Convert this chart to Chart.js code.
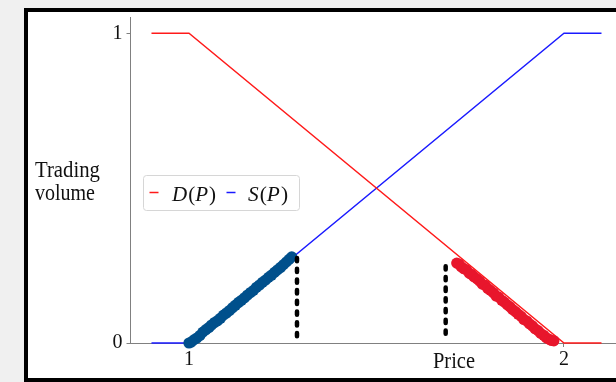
<!DOCTYPE html>
<html>
<head>
<meta charset="utf-8">
<script src="https://cdn.jsdelivr.net/npm/chart.js@4/dist/chart.umd.min.js"></script>
<style>
  html, body { margin: 0; padding: 0; background: #f0f0f0; }
  body { width: 616px; height: 382px; overflow: hidden; position: relative; }
  #frame { position: absolute; left: 24px; top: 8px; width: 700px; height: 366px; border: 4px solid #000; background: #fff; }
  #chart { position: absolute; left: 0; top: 0; }
</style>
</head>
<body>
<div id="frame"></div>
<canvas id="chart" width="616" height="382"></canvas>
<script>
// demand / supply curves
const demandPrice = [0.9, 1, 2, 2.1];
const demandVolume = [1, 1, 0, 0];
const supplyPrice = [0.9, 1, 2, 2.1];
const supplyVolume = [0, 0, 1, 1];

const buyPrice = [1.000, 1.006, 1.013, 1.021, 1.029, 1.037, 1.045, 1.053, 1.060, 1.068, 1.076, 1.084,
    1.092, 1.100, 1.108, 1.116, 1.124, 1.132, 1.140, 1.148, 1.156, 1.164, 1.172, 1.180,
    1.188, 1.196, 1.204, 1.212, 1.220, 1.228, 1.236, 1.244, 1.252, 1.260, 1.267, 1.274];
const buyVolume = [0.000, 0.003, 0.010, 0.016, 0.024, 0.035, 0.043, 0.050, 0.058, 0.066, 0.072, 0.080,
    0.090, 0.097, 0.105, 0.114, 0.122, 0.131, 0.138, 0.146, 0.155, 0.163, 0.170, 0.180,
    0.187, 0.196, 0.203, 0.212, 0.219, 0.228, 0.236, 0.244, 0.253, 0.262, 0.270, 0.278];
const sellPrice = [1.714, 1.720, 1.726, 1.733, 1.740, 1.747, 1.753, 1.760, 1.768, 1.775, 1.782, 1.790,
    1.797, 1.804, 1.812, 1.819, 1.826, 1.834, 1.841, 1.849, 1.856, 1.863, 1.871, 1.878,
    1.886, 1.893, 1.901, 1.908, 1.916, 1.923, 1.931, 1.938, 1.946, 1.953, 1.961, 1.967, 1.973];
const sellVolume = [0.258, 0.255, 0.246, 0.240, 0.236, 0.226, 0.222, 0.214, 0.207, 0.200, 0.190, 0.186,
    0.176, 0.170, 0.162, 0.152, 0.148, 0.138, 0.132, 0.123, 0.117, 0.108, 0.101, 0.093,
    0.086, 0.076, 0.071, 0.062, 0.055, 0.046, 0.040, 0.031, 0.025, 0.017, 0.012, 0.008, 0.007];

// dashed price bounds
const lowBoundPrice = [1.288, 1.288];
const lowBoundVolume = [0.022, 0.280];
const highBoundPrice = [1.6845, 1.6845];
const highBoundVolume = [0.030, 0.268];

const xTicks = [1, 2];
const yTicks = [0, 1];
const xTitle = "Price";
const yTitle = ["Trading", "volume"];

const pts = (xs, ys) => xs.map((x, i) => ({ x, y: ys[i] }));

const serif = "'Liberation Serif', 'DejaVu Serif', serif";
const axisGray = "#808080";

// draw a string squeezed/stretched to a given width
const fitText = (ctx, str, x, baseline, w, font) => {
    ctx.font = font;
    const m = ctx.measureText(str).width;
    ctx.save();
    ctx.translate(x, baseline);
    ctx.scale(w / m, 1);
    ctx.fillText(str, 0, 0);
    ctx.restore();
};

// D(P): letters italic, brackets upright
const drawMath = (ctx, str, x, baseline, w, size) => {
    const parts = str.split("").map((c) => ({
        c,
        font: (/[A-Za-z]/.test(c) ? "italic " : "") + size + "px " + serif,
    }));
    let total = 0;
    parts.forEach((p) => {
        ctx.font = p.font;
        p.w = ctx.measureText(p.c).width + (/[A-Za-z]/.test(p.c) ? 1 : 0);
        total += p.w;
    });
    ctx.save();
    ctx.translate(x, baseline);
    ctx.scale(w / total, 1);
    let cx = 0;
    parts.forEach((p) => {
        ctx.font = p.font;
        ctx.fillText(p.c, cx, 0);
        cx += p.w;
    });
    ctx.restore();
};

const labelsPlugin = {
    id: "labels",
    afterDraw(chart) {
        const { ctx } = chart;
        ctx.save();
        ctx.fillStyle = "#111";
        ctx.textAlign = "left";
        ctx.textBaseline = "alphabetic";
        fitText(ctx, yTitle[0], 35, 177, 65, "23px " + serif);
        fitText(ctx, yTitle[1], 35, 199.5, 60, "23px " + serif);
        fitText(ctx, xTitle, 433, 368, 42, "23px " + serif);

        // legend
        ctx.beginPath();
        ctx.roundRect(143.5, 175.5, 156, 35, 3);
        ctx.fillStyle = "rgba(255,255,255,0.9)";
        ctx.fill();
        ctx.strokeStyle = "#d6d6d6";
        ctx.lineWidth = 1;
        ctx.stroke();

        const ds = chart.data.datasets;
        const entries = [
            { set: ds[4], x: 149.5, tx: 172, tw: 44 },
            { set: ds[5], x: 226.5, tx: 248, tw: 40 },
        ];
        entries.forEach((e) => {
            ctx.beginPath();
            ctx.moveTo(e.x, 192.5);
            ctx.lineTo(e.x + 9, 192.5);
            ctx.strokeStyle = e.set.borderColor;
            ctx.lineWidth = 1.5;
            ctx.stroke();
            ctx.fillStyle = "#111";
            drawMath(ctx, e.set.label, e.tx, 200.5, e.tw, 21);
        });
        ctx.restore();
    },
};

const lineSet = (label, data, color) => ({
    label,
    data,
    showLine: true,
    borderColor: color,
    borderWidth: 1.4,
    pointRadius: 0,
    fill: false,
    clip: false,
    order: 3,
});

const dotSet = (label, data, color) => ({
    label,
    data,
    showLine: false,
    backgroundColor: color,
    borderWidth: 0,
    pointRadius: 5.6,
    clip: false,
    order: 2,
});

const dashSet = (label, data) => ({
    label,
    data,
    showLine: true,
    borderColor: "#000",
    borderWidth: 4.5,
    borderDash: [3.3, 7.4],
    borderCapStyle: "round",
    pointRadius: 0,
    clip: false,
    order: 1,
});

new Chart(document.getElementById("chart"), {
    type: "scatter",
    data: {
        datasets: [
            dashSet("low", pts(lowBoundPrice, lowBoundVolume)),
            dashSet("high", pts(highBoundPrice, highBoundVolume)),
            dotSet("buyers", pts(buyPrice, buyVolume), "#00508c"),
            dotSet("sellers", pts(sellPrice, sellVolume), "#e8162c"),
            lineSet("D(P)", pts(demandPrice, demandVolume), "#ff1a1a"),
            lineSet("S(P)", pts(supplyPrice, supplyVolume), "#1a1aff"),
        ],
    },
    options: {
        responsive: false,
        animation: false,
        devicePixelRatio: 1,
        layout: { autoPadding: false, padding: { top: 17.8, left: 0, right: 0, bottom: 0 } },
        plugins: {
            legend: { display: false },
            tooltip: { enabled: false },
        },
        scales: {
            x: {
                type: "linear",
                min: 0.8427,
                max: 2.1387,
                afterBuildTicks: (s) => {
                    s.ticks = xTicks.map((v) => ({ value: v }));
                },
                afterFit: (s) => {
                    s.height = 39;
                    s.paddingLeft = 0;
                    s.paddingRight = 0;
                },
                border: { display: true, color: axisGray, width: 1 },
                grid: { drawOnChartArea: false, drawTicks: true, tickLength: 4, color: axisGray },
                ticks: {
                    color: "#111",
                    font: { family: serif, size: 20 },
                    padding: 1,
                    maxRotation: 0,
                    autoSkip: false,
                    callback: (v) => String(v),
                },
            },
            y: {
                type: "linear",
                min: 0,
                max: 1.05,
                afterBuildTicks: (s) => {
                    s.ticks = yTicks.map((v) => ({ value: v }));
                },
                afterFit: (s) => {
                    s.width = 130;
                    s.paddingTop = 0;
                    s.paddingBottom = 0;
                },
                border: { display: true, color: axisGray, width: 1 },
                grid: { drawOnChartArea: false, drawTicks: true, tickLength: 3.5, color: axisGray },
                ticks: {
                    color: "#111",
                    font: { family: serif, size: 20 },
                    padding: 4,
                    callback: (v) => String(v),
                },
            },
        },
    },
    plugins: [labelsPlugin],
});
</script>
</body>
</html>
